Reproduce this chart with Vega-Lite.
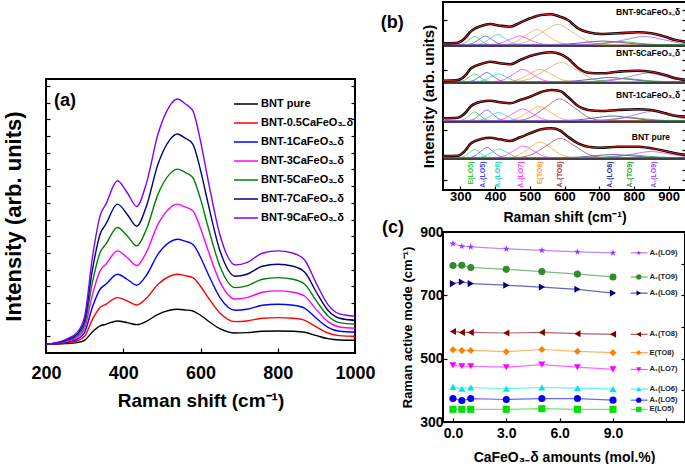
{
"$schema": "https://vega.github.io/schema/vega-lite/v6.json",
"background": "white",
"padding": {"left": 1, "top": 1, "right": 0, "bottom": 0},
"spacing": 2,
"resolve": {"scale": {"color": "independent", "shape": "independent"}},
"config": {
  "font": "Liberation Sans",
  "view": {"stroke": "black", "strokeWidth": 2},
  "axis": {"domain": false, "grid": false, "tickColor": "black", "tickSize": -4, "tickWidth": 1.2, "labelColor": "black", "labelFontWeight": "bold", "titleColor": "black", "titleFontWeight": "bold", "labelFont": "Liberation Sans", "titleFont": "Liberation Sans", "labelOverlap": false, "labelFlush": false},
  "legend": {"labelFont": "Liberation Sans"}
},
"hconcat": [
{
  "bounds": "flush",
  "spacing": 0,
  "resolve": {"scale": {"color": "independent"}},
  "vconcat": [
  {
    "width": 309, "height": 77,
    "view": {"stroke": null},
    "data": {"values": [{}]},
    "mark": {"type": "point", "opacity": 0},
    "encoding": {}
  },
  {
  "width": 309, "height": 274,
  "resolve": {"axis": {"y": "independent"}},
  "layer": [
    {
      "data": {"values": [
{"s":"pure","x":200,"v":26},{"s":"pure","x":250,"v":28},{"s":"pure","x":280,"v":31},{"s":"pure","x":300,"v":38},{"s":"pure","x":320,"v":63},{"s":"pure","x":340,"v":81},{"s":"pure","x":355,"v":86},{"s":"pure","x":385,"v":96},{"s":"pure","x":410,"v":91},{"s":"pure","x":435,"v":85},{"s":"pure","x":460,"v":95},{"s":"pure","x":490,"v":116},{"s":"pure","x":520,"v":128},{"s":"pure","x":540,"v":131},{"s":"pure","x":560,"v":129},{"s":"pure","x":580,"v":126},{"s":"pure","x":600,"v":113},{"s":"pure","x":620,"v":96},{"s":"pure","x":650,"v":73},{"s":"pure","x":690,"v":60},{"s":"pure","x":720,"v":61},{"s":"pure","x":760,"v":65},{"s":"pure","x":800,"v":66},{"s":"pure","x":840,"v":65},{"s":"pure","x":870,"v":62},{"s":"pure","x":900,"v":52},{"s":"pure","x":930,"v":43},{"s":"pure","x":960,"v":39},{"s":"pure","x":1000,"v":38},
{"s":"0.5","x":200,"v":26},{"s":"0.5","x":250,"v":30},{"s":"0.5","x":280,"v":36},{"s":"0.5","x":300,"v":50},{"s":"0.5","x":320,"v":100},{"s":"0.5","x":340,"v":136},{"s":"0.5","x":355,"v":146},{"s":"0.5","x":385,"v":166},{"s":"0.5","x":410,"v":156},{"s":"0.5","x":435,"v":144},{"s":"0.5","x":460,"v":164},{"s":"0.5","x":490,"v":206},{"s":"0.5","x":520,"v":230},{"s":"0.5","x":540,"v":236},{"s":"0.5","x":560,"v":232},{"s":"0.5","x":580,"v":226},{"s":"0.5","x":600,"v":200},{"s":"0.5","x":620,"v":166},{"s":"0.5","x":650,"v":120},{"s":"0.5","x":690,"v":94},{"s":"0.5","x":720,"v":96},{"s":"0.5","x":760,"v":104},{"s":"0.5","x":800,"v":106},{"s":"0.5","x":840,"v":104},{"s":"0.5","x":870,"v":98},{"s":"0.5","x":900,"v":78},{"s":"0.5","x":930,"v":60},{"s":"0.5","x":960,"v":52},{"s":"0.5","x":1000,"v":50},
{"s":"1","x":200,"v":26},{"s":"1","x":250,"v":32},{"s":"1","x":280,"v":41},{"s":"1","x":300,"v":62},{"s":"1","x":320,"v":137},{"s":"1","x":340,"v":191},{"s":"1","x":355,"v":206},{"s":"1","x":385,"v":236},{"s":"1","x":410,"v":221},{"s":"1","x":435,"v":203},{"s":"1","x":460,"v":233},{"s":"1","x":490,"v":296},{"s":"1","x":520,"v":332},{"s":"1","x":540,"v":341},{"s":"1","x":560,"v":335},{"s":"1","x":580,"v":326},{"s":"1","x":600,"v":287},{"s":"1","x":620,"v":236},{"s":"1","x":650,"v":167},{"s":"1","x":690,"v":128},{"s":"1","x":720,"v":131},{"s":"1","x":760,"v":143},{"s":"1","x":800,"v":146},{"s":"1","x":840,"v":143},{"s":"1","x":870,"v":134},{"s":"1","x":900,"v":104},{"s":"1","x":930,"v":77},{"s":"1","x":960,"v":65},{"s":"1","x":1000,"v":62},
{"s":"3","x":200,"v":26},{"s":"3","x":250,"v":34},{"s":"3","x":280,"v":46},{"s":"3","x":300,"v":74},{"s":"3","x":320,"v":174},{"s":"3","x":340,"v":246},{"s":"3","x":355,"v":266},{"s":"3","x":385,"v":306},{"s":"3","x":410,"v":286},{"s":"3","x":435,"v":262},{"s":"3","x":460,"v":302},{"s":"3","x":490,"v":386},{"s":"3","x":520,"v":434},{"s":"3","x":540,"v":446},{"s":"3","x":560,"v":438},{"s":"3","x":580,"v":426},{"s":"3","x":600,"v":374},{"s":"3","x":620,"v":306},{"s":"3","x":650,"v":214},{"s":"3","x":690,"v":162},{"s":"3","x":720,"v":166},{"s":"3","x":760,"v":182},{"s":"3","x":800,"v":186},{"s":"3","x":840,"v":182},{"s":"3","x":870,"v":170},{"s":"3","x":900,"v":130},{"s":"3","x":930,"v":94},{"s":"3","x":960,"v":78},{"s":"3","x":1000,"v":74},
{"s":"5","x":200,"v":26},{"s":"5","x":250,"v":36},{"s":"5","x":280,"v":51},{"s":"5","x":300,"v":86},{"s":"5","x":320,"v":211},{"s":"5","x":340,"v":301},{"s":"5","x":355,"v":326},{"s":"5","x":385,"v":376},{"s":"5","x":410,"v":351},{"s":"5","x":435,"v":321},{"s":"5","x":460,"v":371},{"s":"5","x":490,"v":476},{"s":"5","x":520,"v":536},{"s":"5","x":540,"v":551},{"s":"5","x":560,"v":541},{"s":"5","x":580,"v":526},{"s":"5","x":600,"v":461},{"s":"5","x":620,"v":376},{"s":"5","x":650,"v":261},{"s":"5","x":690,"v":196},{"s":"5","x":720,"v":201},{"s":"5","x":760,"v":221},{"s":"5","x":800,"v":226},{"s":"5","x":840,"v":221},{"s":"5","x":870,"v":206},{"s":"5","x":900,"v":156},{"s":"5","x":930,"v":111},{"s":"5","x":960,"v":91},{"s":"5","x":1000,"v":86},
{"s":"7","x":200,"v":26},{"s":"7","x":250,"v":38},{"s":"7","x":280,"v":56},{"s":"7","x":300,"v":98},{"s":"7","x":320,"v":248},{"s":"7","x":340,"v":356},{"s":"7","x":355,"v":386},{"s":"7","x":385,"v":446},{"s":"7","x":410,"v":416},{"s":"7","x":435,"v":380},{"s":"7","x":460,"v":440},{"s":"7","x":490,"v":566},{"s":"7","x":520,"v":638},{"s":"7","x":540,"v":656},{"s":"7","x":560,"v":644},{"s":"7","x":580,"v":626},{"s":"7","x":600,"v":548},{"s":"7","x":620,"v":446},{"s":"7","x":650,"v":308},{"s":"7","x":690,"v":230},{"s":"7","x":720,"v":236},{"s":"7","x":760,"v":260},{"s":"7","x":800,"v":266},{"s":"7","x":840,"v":260},{"s":"7","x":870,"v":242},{"s":"7","x":900,"v":182},{"s":"7","x":930,"v":128},{"s":"7","x":960,"v":104},{"s":"7","x":1000,"v":98},
{"s":"9","x":200,"v":26},{"s":"9","x":250,"v":40},{"s":"9","x":280,"v":61},{"s":"9","x":300,"v":110},{"s":"9","x":320,"v":285},{"s":"9","x":340,"v":411},{"s":"9","x":355,"v":446},{"s":"9","x":385,"v":516},{"s":"9","x":410,"v":481},{"s":"9","x":435,"v":439},{"s":"9","x":460,"v":509},{"s":"9","x":490,"v":656},{"s":"9","x":520,"v":740},{"s":"9","x":540,"v":761},{"s":"9","x":560,"v":747},{"s":"9","x":580,"v":726},{"s":"9","x":600,"v":635},{"s":"9","x":620,"v":516},{"s":"9","x":650,"v":355},{"s":"9","x":690,"v":264},{"s":"9","x":720,"v":271},{"s":"9","x":760,"v":299},{"s":"9","x":800,"v":306},{"s":"9","x":840,"v":299},{"s":"9","x":870,"v":278},{"s":"9","x":900,"v":208},{"s":"9","x":930,"v":145},{"s":"9","x":960,"v":117},{"s":"9","x":1000,"v":110}
      ]},
      "mark": {"type": "line", "strokeWidth": 1.4, "interpolate": "monotone"},
      "encoding": {
        "x": {"field": "x", "type": "quantitative", "scale": {"domain": [200, 1000], "nice": false},
          "axis": {"title": "Raman shift (cm⁻¹)", "format": "d", "values": [200,300,400,500,600,700,800,900,1000], "labelExpr": "datum.value % 200 == 0 ? datum.label : ''", "labelFontSize": 18, "titleFontSize": 19, "labelPadding": 16, "titlePadding": 9.5, "tickSize": -5}},
        "y": {"field": "v", "type": "quantitative", "scale": {"domain": [0, 821], "nice": false},
          "axis": {"title": "Intensity (arb. units)", "labels": false, "titleFontSize": 22, "titlePadding": 20, "values": [50,100,150,200,250,300,350,400,450,500,550,600,650,700,750,800], "tickSize": -4}},
        "color": {"field": "s", "type": "nominal", "sort": null,
          "scale": {"domain": ["pure","0.5","1","3","5","7","9"], "range": ["#000000","#ff0000","#0000ff","#ff00ff","#008000","#000080","#8000ff"]},
          "legend": {"title": null, "orient": "none", "legendX": 193, "legendY": 18, "padding": 0, "symbolType": "M-2,0H2", "symbolSize": 144, "symbolStrokeWidth": 1.5, "labelFontSize": 11, "labelFontWeight": "bold", "labelColor": "black", "labelOffset": 8, "rowPadding": 7, "labelLimit": 200,
            "labelExpr": "datum.label == 'pure' ? 'BNT pure' : 'BNT-' + datum.label + 'CaFeO₃₋δ'"}}
      }
    },
    {
      "data": {"values": [{}]},
      "mark": {"type": "text", "text": "(a)", "fontSize": 18, "fontWeight": "bold", "align": "left", "baseline": "middle"},
      "encoding": {"x": {"datum": 221}, "y": {"datum": 756, "axis": {"orient": "right", "title": null, "labels": false, "values": [50,100,150,200,250,300,350,400,450,500,550,600,650,700,750,800], "tickSize": -4}}}
    }
  ]
  }
  ]
},
{
  "bounds": "flush",
  "spacing": 42,
  "resolve": {"scale": {"color": "independent", "shape": "independent"}},
  "vconcat": [
  {
    "width": 243, "height": 188,
    "resolve": {"axis": {"y": "independent"}},
    "layer": [
    {
    "layer": [
      {
        "data": {"values": [
{"s":"P","p":"E(LO5)","x":250,"y":32.5},{"s":"P","p":"E(LO5)","x":296,"y":32.5},{"s":"P","p":"E(LO5)","x":311,"y":33.6},{"s":"P","p":"E(LO5)","x":326,"y":37.3},{"s":"P","p":"E(LO5)","x":341,"y":40.5},{"s":"P","p":"E(LO5)","x":356,"y":37.3},{"s":"P","p":"E(LO5)","x":371,"y":33.6},{"s":"P","p":"E(LO5)","x":386,"y":32.5},{"s":"P","p":"E(LO5)","x":950,"y":32.5},
{"s":"P","p":"A₁(LO5)","x":250,"y":32.5},{"s":"P","p":"A₁(LO5)","x":322,"y":32.5},{"s":"P","p":"A₁(LO5)","x":340,"y":33.9},{"s":"P","p":"A₁(LO5)","x":358,"y":38.5},{"s":"P","p":"A₁(LO5)","x":376,"y":42.5},{"s":"P","p":"A₁(LO5)","x":394,"y":38.5},{"s":"P","p":"A₁(LO5)","x":412,"y":33.9},{"s":"P","p":"A₁(LO5)","x":430,"y":32.5},{"s":"P","p":"A₁(LO5)","x":950,"y":32.5},
{"s":"P","p":"A₁(LO6)","x":250,"y":32.5},{"s":"P","p":"A₁(LO6)","x":346,"y":32.5},{"s":"P","p":"A₁(LO6)","x":368,"y":33.7},{"s":"P","p":"A₁(LO6)","x":390,"y":37.6},{"s":"P","p":"A₁(LO6)","x":412,"y":41},{"s":"P","p":"A₁(LO6)","x":434,"y":37.6},{"s":"P","p":"A₁(LO6)","x":456,"y":33.7},{"s":"P","p":"A₁(LO6)","x":478,"y":32.5},{"s":"P","p":"A₁(LO6)","x":950,"y":32.5},
{"s":"P","p":"A₁(LO7)","x":250,"y":32.5},{"s":"P","p":"A₁(LO7)","x":398,"y":32.5},{"s":"P","p":"A₁(LO7)","x":426,"y":34.1},{"s":"P","p":"A₁(LO7)","x":454,"y":39.4},{"s":"P","p":"A₁(LO7)","x":482,"y":44},{"s":"P","p":"A₁(LO7)","x":510,"y":39.4},{"s":"P","p":"A₁(LO7)","x":538,"y":34.1},{"s":"P","p":"A₁(LO7)","x":566,"y":32.5},{"s":"P","p":"A₁(LO7)","x":950,"y":32.5},
{"s":"P","p":"E(TO8)","x":250,"y":32.5},{"s":"P","p":"E(TO8)","x":434,"y":32.5},{"s":"P","p":"E(TO8)","x":466,"y":34.7},{"s":"P","p":"E(TO8)","x":498,"y":41.8},{"s":"P","p":"E(TO8)","x":530,"y":48},{"s":"P","p":"E(TO8)","x":562,"y":41.8},{"s":"P","p":"E(TO8)","x":594,"y":34.7},{"s":"P","p":"E(TO8)","x":626,"y":32.5},{"s":"P","p":"E(TO8)","x":950,"y":32.5},
{"s":"P","p":"A₁(TO8)","x":250,"y":32.5},{"s":"P","p":"A₁(TO8)","x":462,"y":32.5},{"s":"P","p":"A₁(TO8)","x":504,"y":35.2},{"s":"P","p":"A₁(TO8)","x":546,"y":43.9},{"s":"P","p":"A₁(TO8)","x":588,"y":51.5},{"s":"P","p":"A₁(TO8)","x":630,"y":43.9},{"s":"P","p":"A₁(TO8)","x":672,"y":35.2},{"s":"P","p":"A₁(TO8)","x":714,"y":32.5},{"s":"P","p":"A₁(TO8)","x":950,"y":32.5},
{"s":"P","p":"A₁(LO8)","x":250,"y":32.5},{"s":"P","p":"A₁(LO8)","x":590,"y":32.5},{"s":"P","p":"A₁(LO8)","x":640,"y":32.9},{"s":"P","p":"A₁(LO8)","x":690,"y":34.3},{"s":"P","p":"A₁(LO8)","x":740,"y":35.5},{"s":"P","p":"A₁(LO8)","x":790,"y":34.3},{"s":"P","p":"A₁(LO8)","x":840,"y":32.9},{"s":"P","p":"A₁(LO8)","x":890,"y":32.5},{"s":"P","p":"A₁(LO8)","x":950,"y":32.5},
{"s":"P","p":"A₁(TO9)","x":250,"y":32.5},{"s":"P","p":"A₁(TO9)","x":672,"y":32.5},{"s":"P","p":"A₁(TO9)","x":712,"y":32.9},{"s":"P","p":"A₁(TO9)","x":752,"y":34},{"s":"P","p":"A₁(TO9)","x":792,"y":35},{"s":"P","p":"A₁(TO9)","x":832,"y":34},{"s":"P","p":"A₁(TO9)","x":872,"y":32.9},{"s":"P","p":"A₁(TO9)","x":912,"y":32.5},{"s":"P","p":"A₁(TO9)","x":950,"y":32.5},
{"s":"P","p":"A₁(LO9)","x":250,"y":32.5},{"s":"P","p":"A₁(LO9)","x":700,"y":32.5},{"s":"P","p":"A₁(LO9)","x":750,"y":33.3},{"s":"P","p":"A₁(LO9)","x":800,"y":36.1},{"s":"P","p":"A₁(LO9)","x":850,"y":38.5},{"s":"P","p":"A₁(LO9)","x":900,"y":36.1},{"s":"P","p":"A₁(LO9)","x":950,"y":33.3},
{"s":"1","p":"E(LO5)","x":250,"y":69.5},{"s":"1","p":"E(LO5)","x":296,"y":69.5},{"s":"1","p":"E(LO5)","x":311,"y":70.7},{"s":"1","p":"E(LO5)","x":326,"y":74.6},{"s":"1","p":"E(LO5)","x":341,"y":78},{"s":"1","p":"E(LO5)","x":356,"y":74.6},{"s":"1","p":"E(LO5)","x":371,"y":70.7},{"s":"1","p":"E(LO5)","x":386,"y":69.5},{"s":"1","p":"E(LO5)","x":950,"y":69.5},
{"s":"1","p":"A₁(LO5)","x":250,"y":69.5},{"s":"1","p":"A₁(LO5)","x":322,"y":69.5},{"s":"1","p":"A₁(LO5)","x":340,"y":71},{"s":"1","p":"A₁(LO5)","x":358,"y":75.8},{"s":"1","p":"A₁(LO5)","x":376,"y":80},{"s":"1","p":"A₁(LO5)","x":394,"y":75.8},{"s":"1","p":"A₁(LO5)","x":412,"y":71},{"s":"1","p":"A₁(LO5)","x":430,"y":69.5},{"s":"1","p":"A₁(LO5)","x":950,"y":69.5},
{"s":"1","p":"A₁(LO6)","x":250,"y":69.5},{"s":"1","p":"A₁(LO6)","x":344,"y":69.5},{"s":"1","p":"A₁(LO6)","x":366,"y":70.6},{"s":"1","p":"A₁(LO6)","x":388,"y":74.3},{"s":"1","p":"A₁(LO6)","x":410,"y":77.5},{"s":"1","p":"A₁(LO6)","x":432,"y":74.3},{"s":"1","p":"A₁(LO6)","x":454,"y":70.6},{"s":"1","p":"A₁(LO6)","x":476,"y":69.5},{"s":"1","p":"A₁(LO6)","x":950,"y":69.5},
{"s":"1","p":"A₁(LO7)","x":250,"y":69.5},{"s":"1","p":"A₁(LO7)","x":396,"y":69.5},{"s":"1","p":"A₁(LO7)","x":424,"y":71.1},{"s":"1","p":"A₁(LO7)","x":452,"y":76.4},{"s":"1","p":"A₁(LO7)","x":480,"y":81},{"s":"1","p":"A₁(LO7)","x":508,"y":76.4},{"s":"1","p":"A₁(LO7)","x":536,"y":71.1},{"s":"1","p":"A₁(LO7)","x":564,"y":69.5},{"s":"1","p":"A₁(LO7)","x":950,"y":69.5},
{"s":"1","p":"E(TO8)","x":250,"y":69.5},{"s":"1","p":"E(TO8)","x":431,"y":69.5},{"s":"1","p":"E(TO8)","x":463,"y":71.5},{"s":"1","p":"E(TO8)","x":495,"y":77.9},{"s":"1","p":"E(TO8)","x":527,"y":83.5},{"s":"1","p":"E(TO8)","x":559,"y":77.9},{"s":"1","p":"E(TO8)","x":591,"y":71.5},{"s":"1","p":"E(TO8)","x":623,"y":69.5},{"s":"1","p":"E(TO8)","x":950,"y":69.5},
{"s":"1","p":"A₁(TO8)","x":250,"y":69.5},{"s":"1","p":"A₁(TO8)","x":460,"y":69.5},{"s":"1","p":"A₁(TO8)","x":502,"y":72.5},{"s":"1","p":"A₁(TO8)","x":544,"y":82.4},{"s":"1","p":"A₁(TO8)","x":586,"y":91},{"s":"1","p":"A₁(TO8)","x":628,"y":82.4},{"s":"1","p":"A₁(TO8)","x":670,"y":72.5},{"s":"1","p":"A₁(TO8)","x":712,"y":69.5},{"s":"1","p":"A₁(TO8)","x":950,"y":69.5},
{"s":"1","p":"A₁(LO8)","x":250,"y":69.5},{"s":"1","p":"A₁(LO8)","x":588,"y":69.5},{"s":"1","p":"A₁(LO8)","x":638,"y":70.1},{"s":"1","p":"A₁(LO8)","x":688,"y":72.2},{"s":"1","p":"A₁(LO8)","x":738,"y":74},{"s":"1","p":"A₁(LO8)","x":788,"y":72.2},{"s":"1","p":"A₁(LO8)","x":838,"y":70.1},{"s":"1","p":"A₁(LO8)","x":888,"y":69.5},{"s":"1","p":"A₁(LO8)","x":950,"y":69.5},
{"s":"1","p":"A₁(TO9)","x":250,"y":69.5},{"s":"1","p":"A₁(TO9)","x":668,"y":69.5},{"s":"1","p":"A₁(TO9)","x":708,"y":69.9},{"s":"1","p":"A₁(TO9)","x":748,"y":71.3},{"s":"1","p":"A₁(TO9)","x":788,"y":72.5},{"s":"1","p":"A₁(TO9)","x":828,"y":71.3},{"s":"1","p":"A₁(TO9)","x":868,"y":69.9},{"s":"1","p":"A₁(TO9)","x":908,"y":69.5},{"s":"1","p":"A₁(TO9)","x":950,"y":69.5},
{"s":"1","p":"A₁(LO9)","x":250,"y":69.5},{"s":"1","p":"A₁(LO9)","x":700,"y":69.5},{"s":"1","p":"A₁(LO9)","x":750,"y":70.8},{"s":"1","p":"A₁(LO9)","x":800,"y":74.9},{"s":"1","p":"A₁(LO9)","x":850,"y":78.5},{"s":"1","p":"A₁(LO9)","x":900,"y":74.9},{"s":"1","p":"A₁(LO9)","x":950,"y":70.8},
{"s":"5","p":"E(LO5)","x":250,"y":108.5},{"s":"5","p":"E(LO5)","x":296,"y":108.5},{"s":"5","p":"E(LO5)","x":311,"y":109.6},{"s":"5","p":"E(LO5)","x":326,"y":113},{"s":"5","p":"E(LO5)","x":341,"y":116},{"s":"5","p":"E(LO5)","x":356,"y":113},{"s":"5","p":"E(LO5)","x":371,"y":109.6},{"s":"5","p":"E(LO5)","x":386,"y":108.5},{"s":"5","p":"E(LO5)","x":950,"y":108.5},
{"s":"5","p":"A₁(LO5)","x":250,"y":108.5},{"s":"5","p":"A₁(LO5)","x":322,"y":108.5},{"s":"5","p":"A₁(LO5)","x":340,"y":109.8},{"s":"5","p":"A₁(LO5)","x":358,"y":113.9},{"s":"5","p":"A₁(LO5)","x":376,"y":117.5},{"s":"5","p":"A₁(LO5)","x":394,"y":113.9},{"s":"5","p":"A₁(LO5)","x":412,"y":109.8},{"s":"5","p":"A₁(LO5)","x":430,"y":108.5},{"s":"5","p":"A₁(LO5)","x":950,"y":108.5},
{"s":"5","p":"A₁(LO6)","x":250,"y":108.5},{"s":"5","p":"A₁(LO6)","x":344,"y":108.5},{"s":"5","p":"A₁(LO6)","x":366,"y":109.6},{"s":"5","p":"A₁(LO6)","x":388,"y":113},{"s":"5","p":"A₁(LO6)","x":410,"y":116},{"s":"5","p":"A₁(LO6)","x":432,"y":113},{"s":"5","p":"A₁(LO6)","x":454,"y":109.6},{"s":"5","p":"A₁(LO6)","x":476,"y":108.5},{"s":"5","p":"A₁(LO6)","x":950,"y":108.5},
{"s":"5","p":"A₁(LO7)","x":250,"y":108.5},{"s":"5","p":"A₁(LO7)","x":396,"y":108.5},{"s":"5","p":"A₁(LO7)","x":424,"y":110.2},{"s":"5","p":"A₁(LO7)","x":452,"y":115.7},{"s":"5","p":"A₁(LO7)","x":480,"y":120.5},{"s":"5","p":"A₁(LO7)","x":508,"y":115.7},{"s":"5","p":"A₁(LO7)","x":536,"y":110.2},{"s":"5","p":"A₁(LO7)","x":564,"y":108.5},{"s":"5","p":"A₁(LO7)","x":950,"y":108.5},
{"s":"5","p":"E(TO8)","x":250,"y":108.5},{"s":"5","p":"E(TO8)","x":434,"y":108.5},{"s":"5","p":"E(TO8)","x":466,"y":110.2},{"s":"5","p":"E(TO8)","x":498,"y":115.7},{"s":"5","p":"E(TO8)","x":530,"y":120.5},{"s":"5","p":"E(TO8)","x":562,"y":115.7},{"s":"5","p":"E(TO8)","x":594,"y":110.2},{"s":"5","p":"E(TO8)","x":626,"y":108.5},{"s":"5","p":"E(TO8)","x":950,"y":108.5},
{"s":"5","p":"A₁(TO8)'","x":250,"y":108.5},{"s":"5","p":"A₁(TO8)'","x":455,"y":108.5},{"s":"5","p":"A₁(TO8)'","x":500,"y":111.2},{"s":"5","p":"A₁(TO8)'","x":545,"y":119.9},{"s":"5","p":"A₁(TO8)'","x":590,"y":127.5},{"s":"5","p":"A₁(TO8)'","x":635,"y":119.9},{"s":"5","p":"A₁(TO8)'","x":680,"y":111.2},{"s":"5","p":"A₁(TO8)'","x":725,"y":108.5},{"s":"5","p":"A₁(TO8)'","x":950,"y":108.5},
{"s":"5","p":"A₁(LO8)","x":250,"y":108.5},{"s":"5","p":"A₁(LO8)","x":580,"y":108.5},{"s":"5","p":"A₁(LO8)","x":630,"y":109.1},{"s":"5","p":"A₁(LO8)","x":680,"y":110.9},{"s":"5","p":"A₁(LO8)","x":730,"y":112.5},{"s":"5","p":"A₁(LO8)","x":780,"y":110.9},{"s":"5","p":"A₁(LO8)","x":830,"y":109.1},{"s":"5","p":"A₁(LO8)","x":880,"y":108.5},{"s":"5","p":"A₁(LO8)","x":950,"y":108.5},
{"s":"5","p":"A₁(TO9)","x":250,"y":108.5},{"s":"5","p":"A₁(TO9)","x":655,"y":108.5},{"s":"5","p":"A₁(TO9)","x":695,"y":108.9},{"s":"5","p":"A₁(TO9)","x":735,"y":110.3},{"s":"5","p":"A₁(TO9)","x":775,"y":111.5},{"s":"5","p":"A₁(TO9)","x":815,"y":110.3},{"s":"5","p":"A₁(TO9)","x":855,"y":108.9},{"s":"5","p":"A₁(TO9)","x":895,"y":108.5},{"s":"5","p":"A₁(TO9)","x":950,"y":108.5},
{"s":"5","p":"A₁(LO9)","x":250,"y":108.5},{"s":"5","p":"A₁(LO9)","x":690,"y":108.5},{"s":"5","p":"A₁(LO9)","x":740,"y":109.7},{"s":"5","p":"A₁(LO9)","x":790,"y":113.6},{"s":"5","p":"A₁(LO9)","x":840,"y":117},{"s":"5","p":"A₁(LO9)","x":890,"y":113.6},{"s":"5","p":"A₁(LO9)","x":940,"y":109.7},{"s":"5","p":"A₁(LO9)","x":950,"y":109.3},
{"s":"9","p":"E(LO5)","x":250,"y":145.5},{"s":"9","p":"E(LO5)","x":296,"y":145.5},{"s":"9","p":"E(LO5)","x":311,"y":146.6},{"s":"9","p":"E(LO5)","x":326,"y":150.3},{"s":"9","p":"E(LO5)","x":341,"y":153.5},{"s":"9","p":"E(LO5)","x":356,"y":150.3},{"s":"9","p":"E(LO5)","x":371,"y":146.6},{"s":"9","p":"E(LO5)","x":386,"y":145.5},{"s":"9","p":"E(LO5)","x":950,"y":145.5},
{"s":"9","p":"A₁(LO5)","x":250,"y":145.5},{"s":"9","p":"A₁(LO5)","x":318,"y":145.5},{"s":"9","p":"A₁(LO5)","x":336,"y":146.7},{"s":"9","p":"A₁(LO5)","x":354,"y":150.6},{"s":"9","p":"A₁(LO5)","x":372,"y":154},{"s":"9","p":"A₁(LO5)","x":390,"y":150.6},{"s":"9","p":"A₁(LO5)","x":408,"y":146.7},{"s":"9","p":"A₁(LO5)","x":426,"y":145.5},{"s":"9","p":"A₁(LO5)","x":950,"y":145.5},
{"s":"9","p":"A₁(LO6)","x":250,"y":145.5},{"s":"9","p":"A₁(LO6)","x":342,"y":145.5},{"s":"9","p":"A₁(LO6)","x":364,"y":146.9},{"s":"9","p":"A₁(LO6)","x":386,"y":151.5},{"s":"9","p":"A₁(LO6)","x":408,"y":155.5},{"s":"9","p":"A₁(LO6)","x":430,"y":151.5},{"s":"9","p":"A₁(LO6)","x":452,"y":146.9},{"s":"9","p":"A₁(LO6)","x":474,"y":145.5},{"s":"9","p":"A₁(LO6)","x":950,"y":145.5},
{"s":"9","p":"A₁(LO7)","x":250,"y":145.5},{"s":"9","p":"A₁(LO7)","x":386,"y":145.5},{"s":"9","p":"A₁(LO7)","x":414,"y":146.7},{"s":"9","p":"A₁(LO7)","x":442,"y":150.6},{"s":"9","p":"A₁(LO7)","x":470,"y":154},{"s":"9","p":"A₁(LO7)","x":498,"y":150.6},{"s":"9","p":"A₁(LO7)","x":526,"y":146.7},{"s":"9","p":"A₁(LO7)","x":554,"y":145.5},{"s":"9","p":"A₁(LO7)","x":950,"y":145.5},
{"s":"9","p":"E(TO8)","x":250,"y":145.5},{"s":"9","p":"E(TO8)","x":424,"y":145.5},{"s":"9","p":"E(TO8)","x":456,"y":147.6},{"s":"9","p":"E(TO8)","x":488,"y":154.5},{"s":"9","p":"E(TO8)","x":520,"y":160.5},{"s":"9","p":"E(TO8)","x":552,"y":154.5},{"s":"9","p":"E(TO8)","x":584,"y":147.6},{"s":"9","p":"E(TO8)","x":616,"y":145.5},{"s":"9","p":"E(TO8)","x":950,"y":145.5},
{"s":"9","p":"A₁(TO8)'","x":250,"y":145.5},{"s":"9","p":"A₁(TO8)'","x":445,"y":145.5},{"s":"9","p":"A₁(TO8)'","x":490,"y":148.3},{"s":"9","p":"A₁(TO8)'","x":535,"y":157.5},{"s":"9","p":"A₁(TO8)'","x":580,"y":165.5},{"s":"9","p":"A₁(TO8)'","x":625,"y":157.5},{"s":"9","p":"A₁(TO8)'","x":670,"y":148.3},{"s":"9","p":"A₁(TO8)'","x":715,"y":145.5},{"s":"9","p":"A₁(TO8)'","x":950,"y":145.5},
{"s":"9","p":"A₁(LO8)","x":250,"y":145.5},{"s":"9","p":"A₁(LO8)","x":560,"y":145.5},{"s":"9","p":"A₁(LO8)","x":610,"y":146},{"s":"9","p":"A₁(LO8)","x":660,"y":147.6},{"s":"9","p":"A₁(LO8)","x":710,"y":149},{"s":"9","p":"A₁(LO8)","x":760,"y":147.6},{"s":"9","p":"A₁(LO8)","x":810,"y":146},{"s":"9","p":"A₁(LO8)","x":860,"y":145.5},{"s":"9","p":"A₁(LO8)","x":950,"y":145.5},
{"s":"9","p":"A₁(TO9)","x":250,"y":145.5},{"s":"9","p":"A₁(TO9)","x":640,"y":145.5},{"s":"9","p":"A₁(TO9)","x":680,"y":145.9},{"s":"9","p":"A₁(TO9)","x":720,"y":147.3},{"s":"9","p":"A₁(TO9)","x":760,"y":148.5},{"s":"9","p":"A₁(TO9)","x":800,"y":147.3},{"s":"9","p":"A₁(TO9)","x":840,"y":145.9},{"s":"9","p":"A₁(TO9)","x":880,"y":145.5},{"s":"9","p":"A₁(TO9)","x":950,"y":145.5},
{"s":"9","p":"A₁(LO9)","x":250,"y":145.5},{"s":"9","p":"A₁(LO9)","x":665,"y":145.5},{"s":"9","p":"A₁(LO9)","x":720,"y":146.6},{"s":"9","p":"A₁(LO9)","x":775,"y":150.3},{"s":"9","p":"A₁(LO9)","x":830,"y":153.5},{"s":"9","p":"A₁(LO9)","x":885,"y":150.3},{"s":"9","p":"A₁(LO9)","x":940,"y":146.6},{"s":"9","p":"A₁(LO9)","x":950,"y":146.3}
        ]},
        "mark": {"type": "line", "strokeWidth": 1, "opacity": 0.75, "interpolate": "monotone"},
        "encoding": {
          "x": {"field": "x", "type": "quantitative", "scale": {"domain": [250, 950], "nice": false},
            "axis": {"title": "Raman shift (cm⁻¹)", "values": [300,400,500,600,700,800,900], "labelFontSize": 13, "titleFontSize": 14, "labelPadding": 4, "titlePadding": 7, "tickSize": -4, "labelOverlap": false}},
          "y": {"field": "y", "type": "quantitative", "scale": {"domain": [0, 188], "nice": false},
            "axis": {"title": "Intensity (arb. units)", "labels": false, "titleFontSize": 15, "titlePadding": 6, "values": [10,20,40,50,60,80,90,100,120,130,140,160,170,180], "tickSize": -4}},
          "color": {"field": "p", "type": "nominal", "legend": null,
            "scale": {"domain": ["E(LO5)","A₁(LO5)","A₁(LO6)","A₁(LO7)","E(TO8)","A₁(TO8)","A₁(TO8)'","A₁(LO8)","A₁(TO9)","A₁(LO9)"],
                      "range": ["#33cc33","#4444ff","#22cccc","#ff33ff","#ff9933","#a04040","#b8b070","#303090","#30a030","#a050ff"]}},
          "detail": {"field": "s"}
        }
      },
      {
        "data": {"values": [{"y": 31}, {"y": 68}, {"y": 107}, {"y": 144}]},
        "mark": {"type": "rule", "color": "black", "strokeWidth": 1.5},
        "encoding": {"y": {"field": "y", "type": "quantitative"}}
      },
      {
        "data": {"name": "sums", "values": [
{"s":"P","x":250,"y":34},{"s":"P","x":293,"y":34.3},{"s":"P","x":313,"y":39},{"s":"P","x":331,"y":46.7},{"s":"P","x":360,"y":51},{"s":"P","x":385,"y":52.3},{"s":"P","x":414,"y":50.7},{"s":"P","x":443,"y":49},{"s":"P","x":472,"y":52.7},{"s":"P","x":501,"y":56.7},{"s":"P","x":533,"y":60.7},{"s":"P","x":562,"y":61.7},{"s":"P","x":587,"y":59.5},{"s":"P","x":610,"y":53.3},{"s":"P","x":639,"y":46.7},{"s":"P","x":668,"y":43.3},{"s":"P","x":705,"y":42.3},{"s":"P","x":754,"y":43.3},{"s":"P","x":812,"y":43.3},{"s":"P","x":849,"y":41.7},{"s":"P","x":890,"y":39},{"s":"P","x":919,"y":36.7},{"s":"P","x":950,"y":35},
{"s":"1","x":250,"y":71.7},{"s":"1","x":293,"y":72.3},{"s":"1","x":313,"y":76.7},{"s":"1","x":331,"y":84},{"s":"1","x":360,"y":88.3},{"s":"1","x":385,"y":89.3},{"s":"1","x":414,"y":87.7},{"s":"1","x":443,"y":86.7},{"s":"1","x":472,"y":90},{"s":"1","x":501,"y":93.3},{"s":"1","x":533,"y":98},{"s":"1","x":562,"y":100},{"s":"1","x":587,"y":99},{"s":"1","x":610,"y":93},{"s":"1","x":639,"y":84},{"s":"1","x":668,"y":80},{"s":"1","x":705,"y":79},{"s":"1","x":754,"y":80},{"s":"1","x":812,"y":80.7},{"s":"1","x":849,"y":80},{"s":"1","x":890,"y":76.7},{"s":"1","x":919,"y":74.3},{"s":"1","x":950,"y":73.3},
{"s":"5","x":250,"y":109.3},{"s":"5","x":293,"y":110},{"s":"5","x":313,"y":114},{"s":"5","x":331,"y":121.7},{"s":"5","x":360,"y":126},{"s":"5","x":385,"y":128.3},{"s":"5","x":414,"y":126.7},{"s":"5","x":443,"y":125.7},{"s":"5","x":472,"y":130},{"s":"5","x":501,"y":134},{"s":"5","x":533,"y":136.7},{"s":"5","x":562,"y":137.7},{"s":"5","x":587,"y":136},{"s":"5","x":610,"y":131.5},{"s":"5","x":639,"y":122},{"s":"5","x":668,"y":117.3},{"s":"5","x":705,"y":116.7},{"s":"5","x":754,"y":118.3},{"s":"5","x":812,"y":119.3},{"s":"5","x":849,"y":118.3},{"s":"5","x":890,"y":115},{"s":"5","x":919,"y":111.7},{"s":"5","x":950,"y":110},
{"s":"9","x":250,"y":146.7},{"s":"9","x":293,"y":147.3},{"s":"9","x":313,"y":151.7},{"s":"9","x":331,"y":159},{"s":"9","x":360,"y":164},{"s":"9","x":385,"y":166},{"s":"9","x":414,"y":164.3},{"s":"9","x":443,"y":163.3},{"s":"9","x":472,"y":167.3},{"s":"9","x":501,"y":171.7},{"s":"9","x":533,"y":175},{"s":"9","x":562,"y":175.7},{"s":"9","x":587,"y":173.3},{"s":"9","x":610,"y":170},{"s":"9","x":639,"y":161.7},{"s":"9","x":668,"y":157.7},{"s":"9","x":705,"y":156},{"s":"9","x":754,"y":156.7},{"s":"9","x":812,"y":157.7},{"s":"9","x":849,"y":156.7},{"s":"9","x":890,"y":153.3},{"s":"9","x":919,"y":150},{"s":"9","x":950,"y":148.3}
        ]},
        "mark": {"type": "line", "color": "black", "strokeWidth": 2.6, "interpolate": "monotone"},
        "encoding": {"x": {"field": "x", "type": "quantitative"}, "y": {"field": "y", "type": "quantitative"}, "detail": {"field": "s"}}
      },
      {
        "data": {"name": "sums"},
        "mark": {"type": "line", "color": "#ff2020", "strokeWidth": 0.9, "interpolate": "monotone"},
        "encoding": {"x": {"field": "x", "type": "quantitative"}, "y": {"field": "y", "type": "quantitative"}, "detail": {"field": "s"}}
      },
      {
        "data": {"values": [{"p":"E(LO5)","x":331},{"p":"A₁(LO5)","x":365},{"p":"A₁(LO6)","x":408},{"p":"A₁(LO7)","x":475},{"p":"E(TO8)","x":529},{"p":"A₁(TO8)","x":587},{"p":"A₁(LO8)","x":731},{"p":"A₁(TO9)","x":789},{"p":"A₁(LO9)","x":858}]},
        "mark": {"type": "text", "angle": 270, "align": "right", "baseline": "middle", "fontSize": 7, "fontWeight": "bold"},
        "encoding": {"x": {"field": "x", "type": "quantitative"}, "y": {"datum": 28.5}, "text": {"field": "p"}, "color": {"field": "p", "type": "nominal", "legend": null}}
      },
      {"data": {"values": [{}]}, "mark": {"type": "text", "text": "BNT-9CaFeO₃₋δ", "align": "right", "baseline": "middle", "fontSize": 8.5, "fontWeight": "bold"}, "encoding": {"x": {"datum": 933}, "y": {"datum": 178}}},
      {"data": {"values": [{}]}, "mark": {"type": "text", "text": "BNT-5CaFeO₃₋δ", "align": "right", "baseline": "middle", "fontSize": 8.5, "fontWeight": "bold"}, "encoding": {"x": {"datum": 933}, "y": {"datum": 137}}},
      {"data": {"values": [{}]}, "mark": {"type": "text", "text": "BNT-1CaFeO₃₋δ", "align": "right", "baseline": "middle", "fontSize": 8.5, "fontWeight": "bold"}, "encoding": {"x": {"datum": 933}, "y": {"datum": 95}}},
      {"data": {"values": [{}]}, "mark": {"type": "text", "text": "BNT pure", "align": "right", "baseline": "middle", "fontSize": 8.5, "fontWeight": "bold"}, "encoding": {"x": {"datum": 904}, "y": {"datum": 53}}},
      {"data": {"values": [{}]}, "mark": {"type": "text", "text": "(b)", "align": "left", "baseline": "middle", "fontSize": 18, "fontWeight": "bold", "clip": false}, "encoding": {"x": {"datum": 71}, "y": {"datum": 167}}}
    ]
    },
    {
      "data": {"values": [{}]},
      "mark": {"type": "point", "opacity": 0},
      "encoding": {"y": {"datum": 0, "axis": {"orient": "right", "title": null, "labels": false, "values": [10,20,40,50,60,80,90,100,120,130,140,160,170,180], "tickSize": -4}}}
    }
    ]
  },
  {
    "width": 242, "height": 190,
    "resolve": {"axis": {"y": "independent"}},
    "layer": [
    {
    "data": {"values": [
{"m":"A₁(LO9)","x":0,"y":863},{"m":"A₁(LO9)","x":0.5,"y":855},{"m":"A₁(LO9)","x":1,"y":853},{"m":"A₁(LO9)","x":3,"y":847},{"m":"A₁(LO9)","x":5,"y":842},{"m":"A₁(LO9)","x":7,"y":837},{"m":"A₁(LO9)","x":9,"y":834},
{"m":"A₁(TO9)","x":0,"y":794},{"m":"A₁(TO9)","x":0.5,"y":795},{"m":"A₁(TO9)","x":1,"y":788},{"m":"A₁(TO9)","x":3,"y":782},{"m":"A₁(TO9)","x":5,"y":775},{"m":"A₁(TO9)","x":7,"y":767},{"m":"A₁(TO9)","x":9,"y":758},
{"m":"A₁(LO8)","x":0,"y":737},{"m":"A₁(LO8)","x":0.5,"y":742},{"m":"A₁(LO8)","x":1,"y":737},{"m":"A₁(LO8)","x":3,"y":732},{"m":"A₁(LO8)","x":5,"y":726},{"m":"A₁(LO8)","x":7,"y":719},{"m":"A₁(LO8)","x":9,"y":707},
{"m":"A₁(TO8)","x":0,"y":586},{"m":"A₁(TO8)","x":0.5,"y":583},{"m":"A₁(TO8)","x":1,"y":583},{"m":"A₁(TO8)","x":3,"y":581},{"m":"A₁(TO8)","x":5,"y":583},{"m":"A₁(TO8)","x":7,"y":579},{"m":"A₁(TO8)","x":9,"y":577},
{"m":"E(TO8)","x":0,"y":528},{"m":"E(TO8)","x":0.5,"y":526},{"m":"E(TO8)","x":1,"y":526},{"m":"E(TO8)","x":3,"y":522},{"m":"E(TO8)","x":5,"y":529},{"m":"E(TO8)","x":7,"y":523},{"m":"E(TO8)","x":9,"y":519},
{"m":"A₁(LO7)","x":0,"y":479},{"m":"A₁(LO7)","x":0.5,"y":476},{"m":"A₁(LO7)","x":1,"y":476},{"m":"A₁(LO7)","x":3,"y":473},{"m":"A₁(LO7)","x":5,"y":481},{"m":"A₁(LO7)","x":7,"y":473},{"m":"A₁(LO7)","x":9,"y":466},
{"m":"A₁(LO6)","x":0,"y":411},{"m":"A₁(LO6)","x":0.5,"y":405},{"m":"A₁(LO6)","x":1,"y":409},{"m":"A₁(LO6)","x":3,"y":405},{"m":"A₁(LO6)","x":5,"y":409},{"m":"A₁(LO6)","x":7,"y":407},{"m":"A₁(LO6)","x":9,"y":404},
{"m":"A₁(LO5)","x":0,"y":374},{"m":"A₁(LO5)","x":0.5,"y":368},{"m":"A₁(LO5)","x":1,"y":374},{"m":"A₁(LO5)","x":3,"y":371},{"m":"A₁(LO5)","x":5,"y":374},{"m":"A₁(LO5)","x":7,"y":374},{"m":"A₁(LO5)","x":9,"y":369},
{"m":"E(LO5)","x":0,"y":340},{"m":"E(LO5)","x":0.5,"y":340},{"m":"E(LO5)","x":1,"y":340},{"m":"E(LO5)","x":3,"y":340},{"m":"E(LO5)","x":5,"y":342},{"m":"E(LO5)","x":7,"y":340},{"m":"E(LO5)","x":9,"y":340}
    ]},
    "layer": [
      {
        "mark": {"type": "line", "strokeWidth": 1.2, "opacity": 0.6},
        "encoding": {
          "x": {"field": "x", "type": "quantitative", "scale": {"domain": [-0.56, 13.05], "nice": false},
            "axis": {"title": "CaFeO₃₋δ amounts (mol.%)", "values": [0,1.5,3,4.5,6,7.5,9,10.5,12], "labelExpr": "datum.value <= 9 ? format(datum.value, '.1f') : ''", "labelFontSize": 14, "titleFontSize": 14, "labelPadding": 8, "titlePadding": 10, "tickSize": -4, "labelOverlap": false, "labelSeparation": 0}},
          "y": {"field": "y", "type": "quantitative", "scale": {"domain": [300, 900], "nice": false},
            "axis": {"title": "Raman active mode (cm⁻¹)", "values": [300,400,500,600,700,800,900], "labelFontSize": 14, "titleFontSize": 13, "labelPadding": 4, "titlePadding": 5, "tickSize": -4, "labelOverlap": false}},
          "color": {"field": "m", "type": "nominal", "legend": null,
            "scale": {"domain": ["A₁(LO9)","A₁(TO9)","A₁(LO8)","A₁(TO8)","E(TO8)","A₁(LO7)","A₁(LO6)","A₁(LO5)","E(LO5)"],
                      "range": ["#9933ff","#2e8b2e","#000080","#800000","#ff8000","#ff00ff","#00e5e5","#0000ff","#00e000"]}}
        }
      },
      {
        "mark": {"type": "point", "filled": true, "opacity": 1, "size": 50},
        "encoding": {
          "x": {"field": "x", "type": "quantitative"},
          "y": {"field": "y", "type": "quantitative"},
          "color": {"field": "m", "type": "nominal", "legend": null},
          "shape": {"field": "m", "type": "nominal", "legend": null,
            "scale": {"domain": ["A₁(LO9)","A₁(TO9)","A₁(LO8)","A₁(TO8)","E(TO8)","A₁(LO7)","A₁(LO6)","A₁(LO5)","E(LO5)"],
                      "range": ["M0,-1L0.2245,-0.309L0.951,-0.309L0.363,0.118L0.588,0.809L0,0.382L-0.588,0.809L-0.363,0.118L-0.951,-0.309L-0.2245,-0.309Z","circle","triangle-right","triangle-left","diamond","triangle-down","triangle-up","circle","square"]}}
        }
      },
      {
        "transform": [{"filter": "datum.x == 9"}],
        "mark": {"type": "rule", "strokeWidth": 1, "opacity": 0.8},
        "encoding": {"x": {"datum": 10.0}, "x2": {"datum": 10.95}, "y": {"field": "y", "type": "quantitative"}, "color": {"field": "m", "type": "nominal", "legend": null}}
      },
      {
        "transform": [{"filter": "datum.x == 9"}],
        "mark": {"type": "point", "filled": true, "opacity": 1, "size": 28},
        "encoding": {"x": {"datum": 10.45}, "y": {"field": "y", "type": "quantitative"}, "color": {"field": "m", "type": "nominal", "legend": null}, "shape": {"field": "m", "type": "nominal", "legend": null}}
      },
      {
        "transform": [{"filter": "datum.x == 9"}],
        "mark": {"type": "text", "align": "left", "baseline": "middle", "fontSize": 7.5, "fontWeight": "bold", "color": "#222222"},
        "encoding": {"x": {"datum": 11.05}, "y": {"field": "y", "type": "quantitative"}, "text": {"field": "m"}}
      },
      {
        "data": {"values": [{}]},
        "mark": {"type": "text", "text": "(c)", "align": "left", "baseline": "middle", "fontSize": 18, "fontWeight": "bold", "clip": false},
        "encoding": {"x": {"datum": -3.99}, "y": {"datum": 912}}
      }
    ]
    },
    {
      "data": {"values": [{}]},
      "mark": {"type": "point", "opacity": 0},
      "encoding": {"y": {"datum": 300, "axis": {"orient": "right", "title": null, "labels": false, "values": [300,400,500,600,700,800,900], "tickSize": -4}}}
    }
    ]
  }
  ]
}
]
}
